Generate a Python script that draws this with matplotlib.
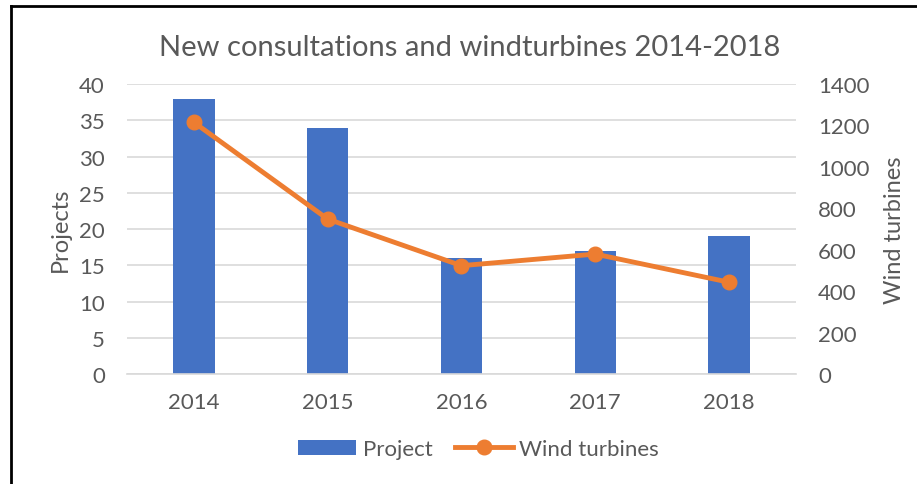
import matplotlib.pyplot as plt
from matplotlib.lines import Line2D
import numpy as np

years = ['2014', '2015', '2016', '2017', '2018']
projects = [38, 34, 16, 17, 19]
wind_turbines = [1215, 748, 523, 579, 443]

plt.rcParams['font.family'] = ['Lato', 'DejaVu Sans']
grey = '#595959'
blue = '#4472C4'
orange = '#ED7D31'

fig = plt.figure(figsize=(9.17, 4.85), dpi=100)
ax = fig.add_axes([0.1385, 0.2268, 0.7295, 0.5979])
ax2 = ax.twinx()

x = np.arange(len(years))
ax.bar(x, projects, width=0.31, color=blue, label='Project', zorder=2)
ax2.plot(x, wind_turbines, color=orange, lw=3.5, marker='o', markersize=10.5,
         label='Wind turbines', zorder=3)

ax.set_xlim(-0.5, 4.5)
ax.set_ylim(0, 40)
ax2.set_ylim(0, 1400)
ax.set_yticks(range(0, 41, 5))
ax2.set_yticks(range(0, 1401, 200))
ax.set_xticks(x)
ax.set_xticklabels(years)

ax.grid(axis='y', color='#D9D9D9', lw=1.2, zorder=0)
ax.set_axisbelow(True)
for a in (ax, ax2):
    for s in a.spines.values():
        s.set_visible(False)
    a.tick_params(length=0, labelsize=16, colors=grey, pad=16)
ax.tick_params(axis='x', pad=13)
ax.spines['bottom'].set_visible(True)
ax.spines['bottom'].set_color('#D9D9D9')
ax.spines['bottom'].set_linewidth(1.2)

ax.set_ylabel('Projects', fontsize=17, color=grey, labelpad=6)
ax2.set_ylabel('Wind turbines', fontsize=17, color=grey, labelpad=10)
ax2.set_zorder(ax.get_zorder() + 1)

fig.text(0.512, 0.9, 'New consultations and windturbines 2014-2018',
         ha='center', va='center', fontsize=21, color=grey)

h1, l1 = ax.get_legend_handles_labels()
h2, l2 = ax2.get_legend_handles_labels()
fig.legend(h1 + h2, l1 + l2, loc='center', bbox_to_anchor=(0.522, 0.072), ncol=2,
           frameon=False, fontsize=16, labelcolor=grey, handlelength=2.6,
           columnspacing=1.0, handletextpad=0.3)

# frame lines at top and left like the cropped screenshot
fig.add_artist(Line2D([0.012, 1.0], [0.986, 0.986], color='black', lw=2,
                      transform=fig.transFigure))
fig.add_artist(Line2D([0.012, 0.012], [0.0, 0.986], color='black', lw=2,
                      transform=fig.transFigure))

fig.savefig('out.png', dpi=100)
